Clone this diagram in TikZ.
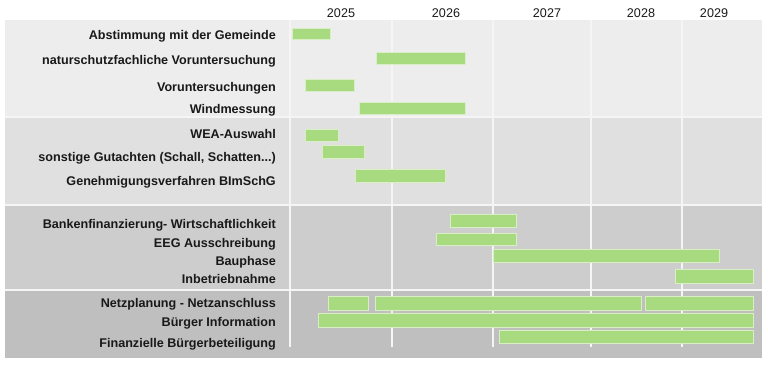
\documentclass[tikz,border=0pt]{standalone}
\usepackage{fontspec}
\setmainfont{Liberation Sans}
\usepackage{tikz}
\usetikzlibrary{positioning}
\definecolor{panelA}{HTML}{EDEDED}
\definecolor{panelB}{HTML}{E0E0E0}
\definecolor{panelC}{HTML}{CDCDCD}
\definecolor{panelD}{HTML}{BFBFBF}
\definecolor{barfill}{HTML}{A8DA80}
\definecolor{barline}{HTML}{D8EFC6}

\begin{document}
\begin{tikzpicture}[
    x=1pt, y=-1pt,
    task/.style={anchor=base east, inner sep=0pt, text=black!90, font=\fontsize{12.6}{14}\bfseries\selectfont},
    year/.style={anchor=base, inner sep=0pt, text=black!90, font=\fontsize{12.6}{14}\selectfont},
    bar/.style={fill=barfill, draw=barline, line width=0.9pt},
    grid/.style={draw=white!96!black, line width=1.2pt}
]
    \useasboundingbox (0,0) rectangle (768,364);

    % Hintergrund der vier Phasen
    \fill[panelA] (5,20) rectangle (762,117);
    \fill[panelB] (5,117) rectangle (762,205);
    \fill[panelC] (5,205) rectangle (762,290);
    \fill[panelD] (5,290) rectangle (762,358);
    \draw[grid] (5,117) -- (762,117);
    \draw[grid] (5,205) -- (762,205);
    \draw[grid] (5,290) -- (762,290);
    \foreach \gx in {290,392,493,591,682}
        \draw[grid] (\gx,20) -- (\gx,347);

    % Jahre
    \node[year] (y25) at (341,17) {2025};
    \node[year] (y26) at (446,17) {2026};
    \node[year] (y27) at (547,17) {2027};
    \node[year] (y28) at (641,17) {2028};
    \node[year] (y29) at (714,17) {2029};

    % Aufgaben
    \node[task] (abst)  at (276,39)  {Abstimmung mit der Gemeinde};
    \node[task] (natur) at (276,64)  {naturschutzfachliche Voruntersuchung};
    \node[task] (vorun) at (276,91)  {Voruntersuchungen};
    \node[task] (wind)  at (276,113) {Windmessung};
    \node[task] (wea)   at (276,138) {WEA-Auswahl};
    \node[task] (gutach) at (276,161) {sonstige Gutachten (Schall, Schatten...)};
    \node[task] (genehm) at (276,185) {Genehmigungsverfahren BImSchG};
    \node[task] (bank)  at (276,228) {Bankenfinanzierung- Wirtschaftlichkeit};
    \node[task] (eeg)   at (276,247) {EEG Ausschreibung};
    \node[task] (bau)   at (276,265) {Bauphase};
    \node[task] (inbetr) at (276,283) {Inbetriebnahme};
    \node[task] (netz)  at (276,307) {Netzplanung - Netzanschluss};
    \node[task] (binfo) at (276,326) {Bürger Information};
    \node[task] (bbet)  at (276,347) {Finanzielle Bürgerbeteiligung};

    % Balken
    \draw[bar] (292,28) rectangle (330,39);
    \draw[bar] (376,52) rectangle (465,64);
    \draw[bar] (305,79) rectangle (354,91);
    \draw[bar] (359,102) rectangle (465,114);
    \draw[bar] (305,129) rectangle (338,141);
    \draw[bar] (322,145) rectangle (364,158);
    \draw[bar] (355,169) rectangle (445,182);
    \draw[bar] (450,214) rectangle (516,227);
    \draw[bar] (436,233) rectangle (516,245);
    \draw[bar] (493,249) rectangle (719,262);
    \draw[bar] (675,269) rectangle (753,283);
    \draw[bar] (328,296) rectangle (368,310);
    \draw[bar] (375,296) rectangle (641,310);
    \draw[bar] (645,296) rectangle (753,310);
    \draw[bar] (318,313) rectangle (753,327);
    \draw[bar] (499,330) rectangle (753,343);
\end{tikzpicture}
\end{document}
